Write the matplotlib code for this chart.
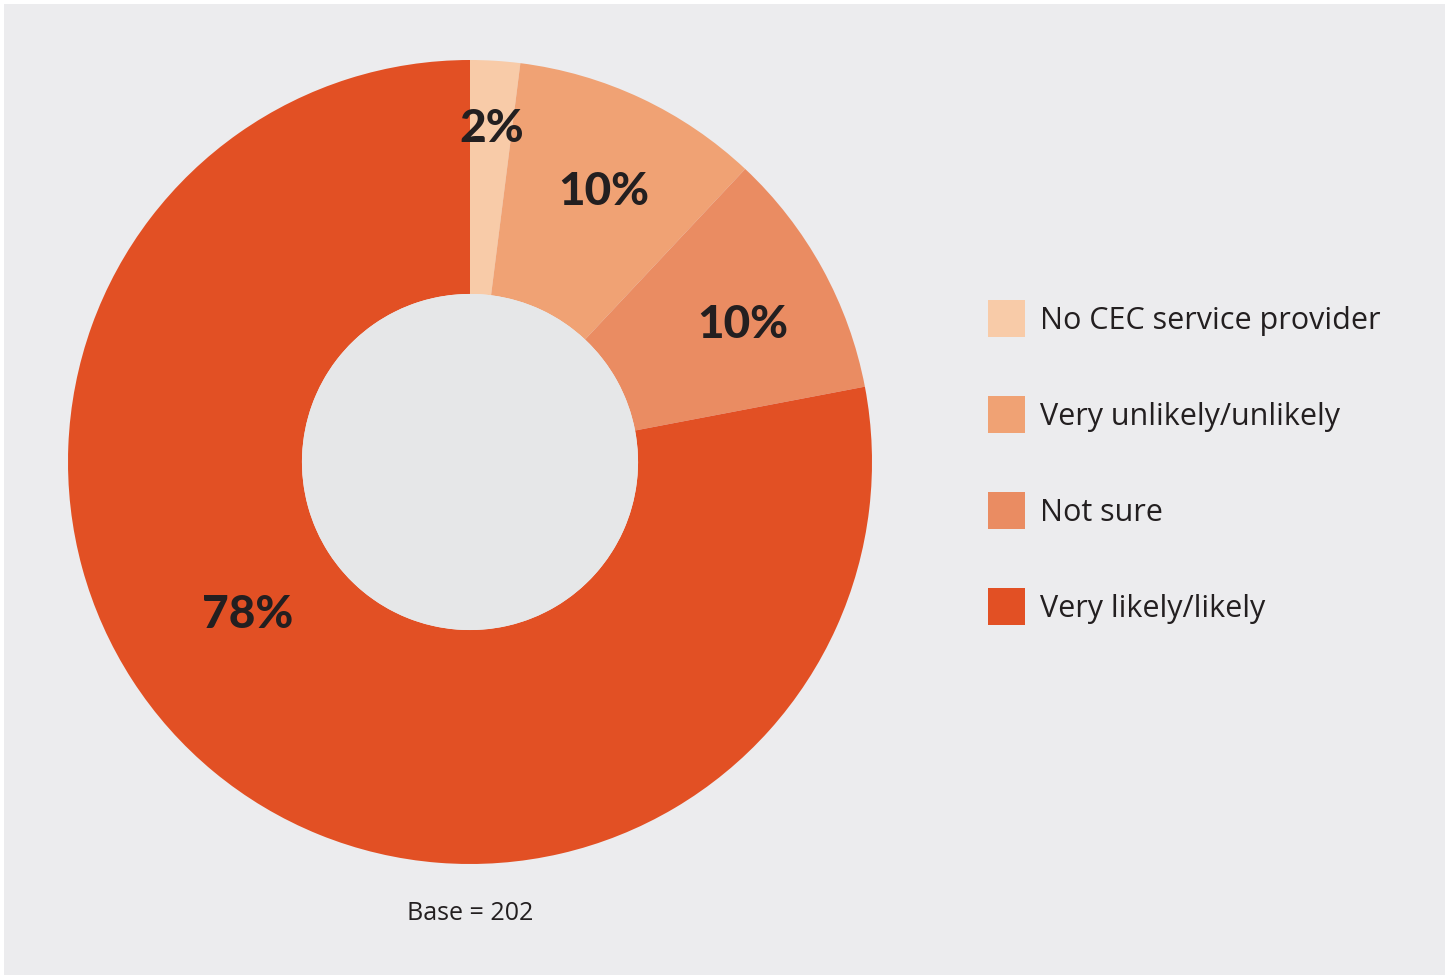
import numpy as np
import matplotlib.pyplot as plt
from matplotlib.patches import Circle, Rectangle

categories = ["No CEC service provider", "Very unlikely/unlikely", "Not sure", "Very likely/likely"]
shares = [2, 10, 10, 78]
colors = ["#F8CBA8", "#F0A274", "#EA8C62", "#E25024"]
base_n = 202

# where each percentage sits: radius (fraction of outer) and clockwise angle from 12 o'clock
label_radius = [0.83, 0.75, 0.76, 0.67]
label_angle = [3.8, 26.4, 63.4, 235.5]

bg = "#ECECEE"
hole = "#E6E7E8"
ink = "#231F20"

fig = plt.figure(figsize=(14.54, 9.76), dpi=100)
fig.patch.set_facecolor("white")
fig.patches.append(Rectangle((4 / 1454, 1 - 975 / 976), 1441 / 1454, 971 / 976,
                             transform=fig.transFigure, facecolor=bg, edgecolor="none", zorder=-1))

# donut: centre at (470, 462) px, outer radius ~402 px
cx, cy, r = 470, 462, 402
ax = fig.add_axes([(cx - r) / 1454, (976 - cy - r) / 976, 2 * r / 1454, 2 * r / 976])
wedges, _ = ax.pie(shares, colors=colors, startangle=90, counterclock=False, radius=1,
                   wedgeprops=dict(width=1 - 0.418, edgecolor="none", linewidth=0))
ax.add_patch(Circle((0, 0), 0.418, facecolor=hole, edgecolor="none", zorder=3))
ax.set_xlim(-1, 1)
ax.set_ylim(-1, 1)
ax.set_aspect("equal")
ax.axis("off")

for val, rr, ang in zip(shares, label_radius, label_angle):
    t = np.deg2rad(ang)
    ax.text(rr * np.sin(t), rr * np.cos(t), f"{val}%", ha="center", va="center",
            fontsize=33, fontweight="black", family="Lato", color=ink, zorder=4)

fig.text(cx / 1454, 1 - 914 / 976, f"Base = {base_n}", ha="center", va="center",
         fontsize=18, family="Open Sans", color=ink)

leg = fig.legend(wedges, categories, loc="upper left", bbox_to_anchor=(988 / 1454, 1 - 300 / 976),
                 frameon=False, handlelength=1.21, handleheight=1.48, labelspacing=1.94,
                 handletextpad=0.5, borderpad=0, borderaxespad=0,
                 prop=dict(family="Open Sans", size=22))
for txt in leg.get_texts():
    txt.set_color(ink)

fig.savefig("out.png", dpi=100, facecolor=fig.get_facecolor())
